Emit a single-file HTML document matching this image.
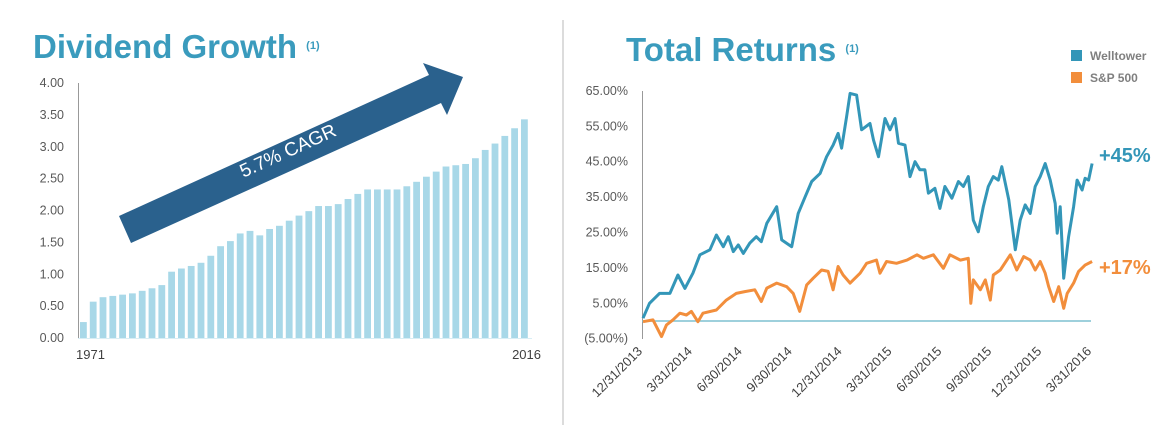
<!DOCTYPE html>
<html><head><meta charset="utf-8">
<style>
body{margin:0;background:#fff;width:1170px;height:425px;overflow:hidden;font-family:"Liberation Sans",Arial,sans-serif;}
svg{position:absolute;left:0;top:0}
</style></head>
<body>
<svg id="c" width="1170" height="425">
  <text x="33" y="58" font-size="33" font-weight="bold" fill="#3a9bbd">Dividend Growth <tspan font-size="11" dy="-9">(1)</tspan></text>
  <text x="626" y="61" font-size="33" font-weight="bold" fill="#3a9bbd">Total Returns <tspan font-size="11" dy="-9">(1)</tspan></text>
  <line x1="563" y1="20" x2="563" y2="425" stroke="#d0d0d0" stroke-width="1.5"/>
  <g id="left"></g>
  <g id="right"></g>
  <rect x="1071" y="50" width="11" height="11" fill="#3396b8"/>
  <text x="1090" y="60" font-size="12" font-weight="bold" fill="#7f7f7f">Welltower</text>
  <rect x="1071" y="72" width="11" height="11" fill="#f28e3c"/>
  <text x="1090" y="82" font-size="12" font-weight="bold" fill="#7f7f7f">S&amp;P 500</text>
  <text x="1099" y="162" font-size="20" font-weight="bold" fill="#3396b8">+45%</text>
  <text x="1099" y="274" font-size="20" font-weight="bold" fill="#f28e3c">+17%</text>
</svg>
<script>
const years = [];
for (let y = 1971; y <= 2016; y++) years.push(y);
const dividends = [0.25,0.57,0.64,0.66,0.68,0.70,0.74,0.78,0.83,1.04,1.09,1.13,1.18,1.29,1.44,1.52,1.64,1.68,1.61,1.71,1.76,1.84,1.92,1.99,2.07,2.07,2.10,2.18,2.26,2.33,2.33,2.33,2.33,2.38,2.45,2.53,2.61,2.69,2.71,2.73,2.82,2.95,3.05,3.17,3.29,3.43];
const leftTicks = ["0.00","0.50","1.00","1.50","2.00","2.50","3.00","3.50","4.00"];

const retQuarters = ["12/31/2013","3/31/2014","6/30/2014","9/30/2014","12/31/2014","3/31/2015","6/30/2015","9/30/2015","12/31/2015","3/31/2016"];
const rightTicks = [-5,5,15,25,35,45,55,65];
const wellT = [0,.13,.33,.54,.70,.84,1.00,1.14,1.34,1.47,1.61,1.71,1.81,1.91,2.01,2.14,2.27,2.37,2.48,2.68,2.78,2.98,3.11,3.25,3.38,3.55,3.68,3.81,3.91,3.98,4.08,4.15,4.28,4.38,4.55,4.62,4.72,4.85,4.95,5.05,5.12,5.25,5.35,5.45,5.55,5.65,5.72,5.85,5.95,6.05,6.19,6.32,6.42,6.52,6.62,6.72,6.82,6.92,7.02,7.12,7.19,7.33,7.46,7.56,7.66,7.76,7.86,7.96,8.06,8.16,8.26,8.30,8.36,8.43,8.53,8.63,8.70,8.80,8.86,8.93,9.00];
const wellV = [0.8,5.0,7.8,7.8,13.0,9.2,13.5,18.7,20.1,24.3,21.0,23.8,19.6,21.5,19.1,22.0,23.8,22.4,27.6,32.3,22.9,21.0,30.4,35.1,39.4,41.7,46.4,49.7,53.0,48.8,57.7,64.3,63.8,54.0,55.8,51.1,46.4,57.2,54.0,57.2,50.2,49.7,40.8,45.0,42.7,42.7,36.1,37.5,31.8,38.0,34.7,39.4,38.0,40.8,28.5,25.2,32.3,38.0,40.8,39.8,43.6,34.2,20.1,28.5,32.8,30.4,38.0,40.8,44.5,39.8,33.2,24.8,32.3,12.1,23.8,32.3,39.8,37.0,40.3,39.8,44.5];
const spT = [0,.20,.37,.47,.60,.74,.87,.97,1.10,1.20,1.47,1.67,1.87,2.04,2.24,2.37,2.48,2.68,2.88,3.01,3.14,3.28,3.41,3.58,3.71,3.81,3.91,4.01,4.15,4.35,4.48,4.68,4.75,4.88,5.08,5.29,5.49,5.62,5.82,6.02,6.15,6.36,6.52,6.57,6.62,6.76,6.86,6.96,7.02,7.16,7.36,7.49,7.63,7.76,7.86,7.96,8.06,8.13,8.23,8.33,8.43,8.50,8.63,8.73,8.86,9.00];
const spV = [-0.2,0.3,-4.4,-1.1,0.3,2.2,1.7,2.7,-0.2,2.2,3.1,5.9,7.8,8.3,8.8,5.5,9.3,10.7,9.7,7.8,2.7,10.2,12.1,14.4,14.0,8.8,15.4,13.0,10.7,13.5,16.3,17.2,13.5,16.8,16.3,17.2,18.7,17.7,18.7,14.9,18.7,17.2,17.7,5.0,11.6,8.8,11.6,5.9,13.0,14.4,18.7,14.4,18.2,17.2,14.4,16.8,13.5,9.7,5.5,9.7,3.6,7.8,10.7,14.0,15.8,16.8];

const NS = "http://www.w3.org/2000/svg";
function mk(tag, attrs, parent){const e=document.createElementNS(NS,tag);for(const k in attrs)e.setAttribute(k,attrs[k]);parent.appendChild(e);return e;}

// Left chart
const L = document.getElementById('left');
const ly = v => 338 - v * 63.75;
const lx0 = 80, pitch = 9.8;
leftTicks.forEach(t => {
  const e = mk('text',{x:64,y:ly(+t)+4,'font-size':12.5,fill:'#595959','text-anchor':'end'},L);
  e.textContent = t;
  
  
});
dividends.forEach((v,i) => {
  const r = mk('rect',{x:lx0+i*pitch,y:ly(v),width:6.8,height:338-ly(v),fill:'#a8d8e8'},L);
  
  
});
const ax = mk('line',{x1:78.5,y1:83,x2:78.5,y2:338,stroke:'#999','stroke-width':1},L);


const bl = mk('line',{x1:78,y1:338.5,x2:532,y2:338.5,stroke:'#d8eef5','stroke-width':1},L);


[[0,'1971',76],[45,'2016',541]].forEach(([i,t,x],k) => {
  const e = mk('text',{x:x,y:359,'font-size':13,fill:'#404040','text-anchor':k?'end':'start'},L);
  e.textContent = t;
  
  
});
const arrow = mk('polygon',{points:'119,216 429,75 423,63 463,77 447,115 441,103 131,243',fill:'#2a618d'},L);


const at = mk('text',{x:288,y:157,'font-size':19,fill:'#fff','text-anchor':'middle',transform:'rotate(-24.5 288 151)'},L);
at.textContent = '5.7% CAGR';



// Right chart
const R = document.getElementById('right');
const rx = q => 643 + q * 49.9;
const ry = v => 321 - v * 3.54;
rightTicks.forEach(t => {
  const e = mk('text',{x:628,y:ry(t)+4,'font-size':12.5,fill:'#595959','text-anchor':'end'},R);
  e.textContent = t < 0 ? '(' + Math.abs(t).toFixed(2) + '%)' : t.toFixed(2) + '%';
  
  
});
retQuarters.forEach((d,i) => {
  const x = rx(i), y = 352;
  const e = mk('text',{x:x,y:y,'font-size':13,fill:'#404040','text-anchor':'end',transform:`rotate(-45 ${x} ${y})`},R);
  e.textContent = d;
  
  
});
const rax = mk('line',{x1:642.5,y1:91,x2:642.5,y2:339,stroke:'#999','stroke-width':1},R);


const zl = mk('line',{x1:642,y1:ry(0),x2:1091,y2:ry(0),stroke:'#7fc0d0','stroke-width':1.5},R);


function line(T,V,col,name){
  const d = T.map((t,i)=>(i?'L':'M')+rx(t).toFixed(1)+','+ry(V[i]).toFixed(1)).join('');
  const p = mk('path',{d:d,fill:'none',stroke:col,'stroke-width':3,'stroke-linejoin':'round'},R);
  
  
}
line(spT,spV,'#f28e3c','sp500-line');
line(wellT,wellV,'#3396b8','welltower-line');
</script>
</body></html>
